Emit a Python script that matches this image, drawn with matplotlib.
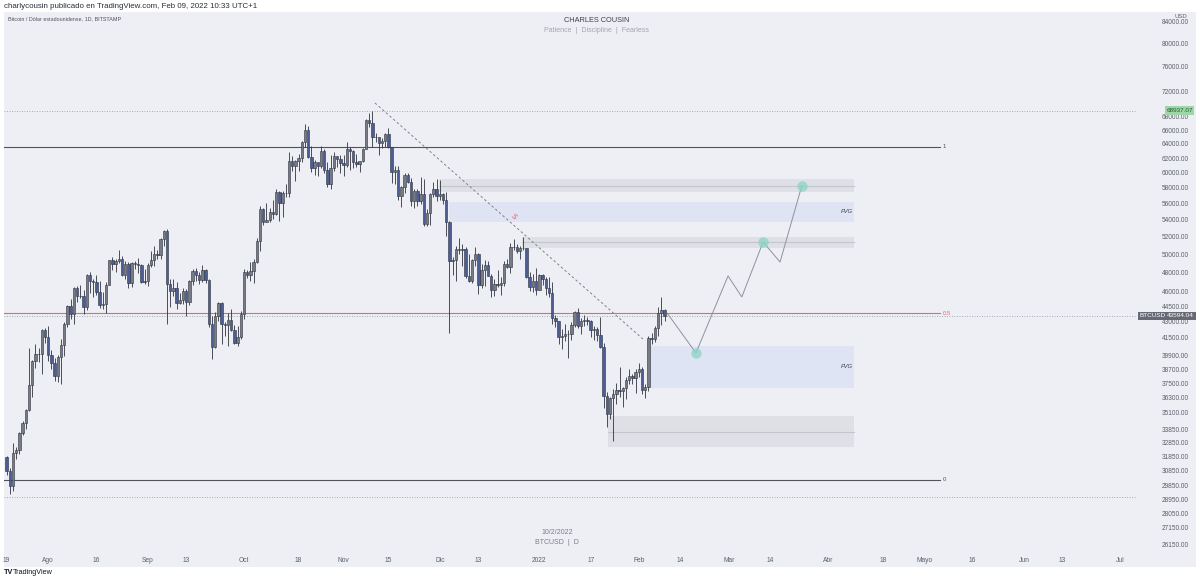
import numpy as np
import pandas as pd
import matplotlib
matplotlib.use("Agg")
import matplotlib.pyplot as plt
import matplotlib.dates as mdates
from matplotlib.patches import Rectangle
from matplotlib.ticker import NullLocator
from matplotlib.transforms import blended_transform_factory

plt.rcParams['font.family'] = ['Liberation Sans', 'DejaVu Sans']

# BTCUSD daily, Bitstamp, 2021-07-19 .. 2022-02-09
start_day = '2021-07-19'
opens = [31780, 30817, 29807, 32110, 32314, 33581, 34292, 35350, 37337, 39406, 39995, 40008, 42235,
         41626, 39974, 39201, 38152, 39747, 40869, 42816, 44555, 43798, 46366, 45585, 45593, 44428, 47793, 47096,
         47047, 46004, 44695, 44801, 46717, 49339, 48905, 49321, 49546, 47706, 48960, 46942, 49058, 48903, 48830,
         47054,
         47166, 48847, 49327, 50025, 49944, 51753, 52633, 46811, 46091, 46391, 44883, 45201, 46063, 44963, 47092,
         48176, 47783, 47268, 48278, 47261, 42843, 40694, 43574, 44896, 42840, 42717, 43208, 42235, 41034, 41564,
         43790, 48116, 47711, 48199, 49112, 51514, 55361, 53805, 53967, 54968, 54771, 57484, 56041, 57401, 57321,
         61593, 60892, 61553, 62026, 64262, 65993, 62210, 60693, 61393, 60931, 63039, 60364, 58482, 60622, 62228,
         61888,
         61318, 61004, 63226, 62970, 61452, 61125, 61527, 63327, 67566, 66971, 64995, 64949, 64155, 64469, 65466,
         63557, 60161, 60368, 56942, 58119, 59760, 58730, 56289, 57569, 56280, 57274, 53569, 54815, 57248, 57806,
         57005, 57230, 56509, 53714, 49253, 49368, 50581, 50471, 50588, 47675, 47140, 49389, 50054, 46702, 48343,
         48864, 47632, 46131, 46834, 46681, 46914, 48890, 48588, 50838, 50820, 50400, 50775, 50701, 47543, 46464,
         47120,
         46216, 47738, 47311, 46430, 45838, 43425, 43082, 41546, 41672, 41865, 41822, 42735, 43949, 42591, 43099,
         43177, 43113, 42250, 42375, 41744, 40680, 36457, 35030, 36276, 36654, 36954, 36852, 37138, 37784, 38138,
         37917, 38483, 38743, 36952, 37155, 41500, 41441, 42412, 43840, 44118]
closes = [30817, 29807, 32110, 32314, 33581, 34292, 35350, 37337, 39406, 39995, 40008, 42235, 41626,
          39974, 39201, 38152, 39747, 40869, 42816, 44555, 43798, 46366, 45585, 45593, 44428, 47793, 47096, 47047,
          46004, 44695, 44801, 46717, 49339, 48905, 49321, 49546, 47706, 48960, 46942, 49058, 48903, 48830, 47054,
          47166,
          48847, 49327, 50025, 49944, 51753, 52633, 46811, 46091, 46391, 44883, 45201, 46063, 44963, 47092, 48176,
          47783, 47268, 48278, 47261, 42843, 40694, 43574, 44896, 42840, 42717, 43208, 42235, 41034, 41564, 43790,
          48116, 47711, 48199, 49112, 51514, 55361, 53805, 53967, 54968, 54771, 57484, 56041, 57401, 57321, 61593,
          60892, 61553, 62026, 64262, 65993, 62210, 60693, 61393, 60931, 63039, 60364, 58482, 60622, 62228, 61888,
          61318,
          61004, 63226, 62970, 61452, 61125, 61527, 63327, 67566, 66971, 64995, 64949, 64155, 64469, 65466, 63557,
          60161, 60368, 56942, 58119, 59760, 58730, 56289, 57569, 56280, 57274, 53569, 54815, 57248, 57806, 57005,
          57230, 56509, 53714, 49253, 49368, 50581, 50471, 50588, 47675, 47140, 49389, 50054, 46702, 48343, 48864,
          47632, 46131, 46834, 46681, 46914, 48890, 48588, 50838, 50820, 50400, 50775, 50701, 47543, 46464, 47120,
          46216,
          47738, 47311, 46430, 45838, 43425, 43082, 41546, 41672, 41865, 41822, 42735, 43949, 42591, 43099, 43177,
          43113, 42250, 42375, 41744, 40680, 36457, 35030, 36276, 36654, 36954, 36852, 37138, 37784, 38138, 37917,
          38483, 38743, 36952, 37155, 41500, 41441, 42412, 43840, 44118, 43594.04]
highs = [31885, 31006, 32820, 32560, 33600, 34475, 35400, 40550, 39540, 40900, 40600, 42300, 42400,
         42600, 40400, 39700, 39950, 41400, 43000, 44700, 45300, 46450, 46600, 46700, 46200, 47900, 48100, 47370,
         47800, 47150, 46000, 47000, 49350, 49700, 49500, 50500, 49800, 49300, 49200, 49200, 49300, 49600, 48900,
         48400,
         49000, 50400, 51000, 50500, 51900, 52780, 52900, 47300, 47300, 47000, 45900, 46400, 46300, 47250, 48450,
         48500, 48100, 48800, 48350, 47300, 43600, 44000, 44950, 45000, 42960, 43900, 44300, 42700, 42600, 44100,
         48400, 48300, 49200, 49500, 51900, 55700, 55400, 56100, 55400, 56500, 57800, 57600, 57600, 58500, 62800,
         62300, 61700, 62600, 64400, 66900, 66600, 63700, 61700, 61500, 63700, 63300, 61500, 62400, 62900, 62300,
         62400,
         62400, 64200, 63500, 63100, 62600, 61600, 63400, 67700, 68500, 68937.07, 65600, 65000, 64900, 65500, 66300,
         63600, 60900, 60950, 58300, 59900, 60000, 59300, 57800, 57800, 59400, 59200, 55300, 57400, 58800, 59200,
         59100, 57400, 57500, 53900, 49700, 50900, 51900, 51200, 50800, 50000, 49500, 50800, 50200, 48900, 49400,
         49300, 47900, 47300, 48300, 47500, 49300, 49500, 51300, 51800, 51200, 51000, 52000, 50700, 48100, 47900,
         48500,
         47900, 47900, 47500, 47500, 47000, 43700, 43100, 42300, 42800, 42200, 43000, 44100, 44400, 43400, 43700,
         43500, 43200, 42600, 42500, 43500, 41000, 36800, 36400, 37000, 37500, 38900, 37200, 38000, 38700, 38300,
         38700, 39200, 38900, 37400, 41700, 42000, 42600, 44500, 45500, 44300]
lows = [30563, 29280, 29500, 31700, 32000, 33400, 33880, 35260, 36400, 38800, 39300, 38300, 41060,
        39400, 38700, 37700, 37600, 37400, 39900, 42500, 43300, 42800, 45000, 45400, 43800, 44200, 45900, 45500,
        45700, 44400, 44300, 43900, 46700, 48300, 48100, 49000, 47600, 47300, 46400, 46500, 48400, 48000, 46900,
        46800,
        46600, 48600, 48700, 49500, 49500, 50900, 42800, 44500, 45600, 44300, 44800, 44800, 43600, 44700, 46750,
        47100, 46800, 47050, 46900, 42500, 39600, 40600, 43100, 40900, 41700, 40800, 42100, 40900, 40800, 41400,
        43300, 47400, 47100, 46900, 49000, 50400, 53400, 53700, 53700, 54100, 54600, 53900, 54300, 56800, 56900,
        60200, 58900, 60200, 61400, 63500, 62000, 60100, 59700, 59600, 60700, 59900, 58100, 57900, 60200, 60800,
        60000,
        59600, 60800, 60400, 60700, 60800, 60100, 61400, 63300, 66400, 63500, 64200, 62400, 63400, 63600, 63400,
        58600, 58500, 56500, 55600, 57400, 58600, 55700, 55400, 55700, 56000, 53300, 53300, 53400, 56800, 56300,
        56500, 55900, 52100, 42000, 47800, 47100, 50100, 48700, 47400, 47000, 46900, 48700, 45800, 46400, 46600,
        47600, 45500, 45600, 46500, 45700, 46600, 48500, 48000, 50500, 50200, 49500, 50500, 47400, 46100, 46000,
        45700,
        46200, 46700, 45700, 45500, 42800, 42500, 40900, 40500, 41200, 39700, 41300, 42500, 42400, 41900, 42600,
        42700, 41600, 41300, 41200, 40600, 35500, 34000, 34600, 32950, 35800, 36400, 35600, 36200, 37400, 37400,
        36700, 38000, 36600, 36300, 36900, 40900, 41100, 41700, 42700, 43100]

ath_price = 68937.07
last_price = 43594.04
low_line = 29100

# fib levels (1 / 0.5 / 0)
fib_levels = [63550, 43870, 30220]
fib_labels = ['1', '0.5', '0']
fib_end = '2022-05-05 18:00'

# zones
zone_start = ['2021-11-30 18:00', '2021-12-03 18:00', '2021-12-26 18:00', '2022-02-03 12:00', '2022-01-22 12:00']
zone_end = '2022-04-09 00:00'
zone_lo = [57470, 53760, 50720, 37110, 32520]
zone_hi = [59170, 56210, 51980, 40760, 34860]
zone_mid = [58310, None, 51400, None, 33630]
zone_kind = ['gray', 'fvg', 'gray', 'fvg', 'gray']

trend_dates = ['2021-11-10 19:00', '2022-02-02 07:00']
trend_prices = [70110, 41390]

path_dates = ['2022-02-09 19:00', '2022-02-18 19:00', '2022-02-28 19:00', '2022-03-05 02:00',
              '2022-03-11 17:00', '2022-03-17 00:00', '2022-03-23 19:00']
path_prices = [43870, 40130, 47650, 45470, 51400, 49160, 58310]
target_idx = [1, 4, 6]

ytick_vals = [84000, 80000, 76000, 72000, 68000, 66000, 64000, 62000, 60000, 58000, 56000, 54000, 52000,
              50000, 48000, 46000, 44500, 43000, 41500, 39900, 38700, 37500, 36300, 35100, 33850, 32850,
              31850, 30850, 29850, 28950, 28050, 27150, 26150]

xtick_dates = ['2021-07-19', '2021-08-01', '2021-08-16', '2021-09-01', '2021-09-13', '2021-10-01', '2021-10-18',
               '2021-11-01', '2021-11-15', '2021-12-01', '2021-12-13', '2022-01-01', '2022-01-17', '2022-02-01',
               '2022-02-14', '2022-03-01', '2022-03-14', '2022-04-01', '2022-04-18', '2022-05-01', '2022-05-16',
               '2022-06-01', '2022-06-13', '2022-07-01']
xtick_labels = ['19', 'Ago', '16', 'Sep', '13', 'Oct', '18', 'Nov', '15', 'Dic', '13', '2022', '17', 'Feb',
                '14', 'Mar', '14', 'Abr', '18', 'Mayo', '16', 'Jun', '13', 'Jul']

BG = '#eeeff4'
UP = '#777b86'
DOWN = '#4d5d96'
EDGE = '#2f333d'

def dn(s):
    return mdates.date2num(pd.Timestamp(s))

W, H = 1200, 581
fig = plt.figure(figsize=(12, 5.81), dpi=100, facecolor='white')
fig.patches.append(Rectangle((4 / W, 1 - 567 / H), 1192 / W, 555 / H, transform=fig.transFigure,
                             facecolor=BG, edgecolor='none', zorder=-10))
ax = fig.add_axes([4 / W, 1 - 551 / H, 1133 / W, 539 / H])
ax.set_facecolor('none')
for s in ax.spines.values():
    s.set_visible(False)

dates = mdates.date2num(pd.date_range(start_day, periods=len(closes), freq='D'))
o = np.array(opens, float)
c = np.array(closes, float)
hi = np.array(highs, float)
lo = np.array(lows, float)

ax.set_yscale('log')
d0 = dn(start_day)

# zones
x1 = dn(zone_end)
for zs, zl, zh, zm, kind in zip(zone_start, zone_lo, zone_hi, zone_mid, zone_kind):
    x0 = dn(zs)
    col = '#dfe0e6' if kind == 'gray' else '#dee4f4'
    ax.fill_between([x0, x1], zl, zh, color=col, lw=0, zorder=1)
    if zm is not None:
        ax.plot([x0, x1], [zm, zm], color='#c4c6cd', lw=0.8, zorder=1.5)
    if kind == 'fvg':
        ax.text(x1 - 2.2, np.sqrt(zl * zh), 'FVG', fontsize=4.2, style='italic', color='#3c404a',
                ha='center', va='center', zorder=2)

# fib lines
xf = dn(fib_end)
fib_cols = ['#50535c', '#e06b6b', '#50535c']
for lvl, lab, fc in zip(fib_levels, fib_labels, fib_cols):
    ax.plot([d0 - 5, xf], [lvl, lvl], color=fc, lw=0.8, zorder=2)
    ax.text(xf + 0.9, lvl, lab, fontsize=4.3, color=fc, ha='left', va='center')

# price lines (dotted)
for p in [ath_price, last_price, low_line]:
    ax.axhline(p, color='#9da1ab', lw=0.6, ls=(0, (1.2, 1.8)), zorder=1)

# trendline
ax.plot([dn(t) for t in trend_dates], trend_prices, color='#7c808a', lw=0.7, ls=(0, (2.5, 2.5)), zorder=3)
ax.text(dn('2021-12-24 02:00'), 54360, 'S', color='#e0485c', fontsize=5, style='italic',
        rotation=-35, ha='center', va='center', zorder=3)

# candles
up = c >= o
ax.vlines(dates, lo, hi, color=EDGE, lw=0.6, zorder=4)
ax.bar(dates[up], np.abs(c - o)[up], bottom=np.minimum(o, c)[up], width=0.75,
       color=UP, edgecolor=EDGE, lw=0.4, zorder=5)
ax.bar(dates[~up], np.abs(c - o)[~up], bottom=np.minimum(o, c)[~up], width=0.75,
       color=DOWN, edgecolor=EDGE, lw=0.4, zorder=5)

# projected path
px = [dn(t) for t in path_dates]
ax.plot(px, path_prices, color='#8e929b', lw=0.7, zorder=6)
ax.plot([px[i] for i in target_idx], [path_prices[i] for i in target_idx], 'o', ms=7.5,
        color='#8fd5c7', alpha=0.8, mec='none', zorder=7)

ax.set_xlim(d0 - 0.78, d0 + 352.2)
ax.set_ylim(25790, 85896)

# axes ticks
ax.yaxis.tick_right()
ax.set_yticks(ytick_vals)
ax.set_yticklabels(['%.2f' % v for v in ytick_vals])
ax.yaxis.set_minor_locator(NullLocator())
ax.tick_params(axis='y', length=0, pad=18, labelsize=4.7, labelcolor='#5b5f6a')
ax.set_xticks([dn(t) for t in xtick_dates])
ax.set_xticklabels(xtick_labels)
ax.tick_params(axis='x', length=0, pad=4, labelsize=4.8, labelcolor='#5b5f6a')

# price-scale labels
tr = blended_transform_factory(ax.transAxes, ax.transData)
ax.text((1179.5 - 4) / 1133, ath_price, '%.2f' % ath_price, transform=tr, fontsize=4.6, color='#1f5a2c',
        ha='center', va='center', clip_on=False, zorder=10,
        bbox=dict(boxstyle='square,pad=0.25', fc='#9fd6a8', ec='none'))
ax.text((1153 - 4) / 1133, last_price, 'BTCUSD', transform=tr, fontsize=4.6, color='white',
        ha='center', va='center', clip_on=False, zorder=10,
        bbox=dict(boxstyle='square,pad=0.25', fc='#676a75', ec='none'))
ax.text((1180.5 - 4) / 1133, last_price, '%.2f' % last_price, transform=tr, fontsize=4.6, color='white',
        ha='center', va='center', clip_on=False, zorder=10,
        bbox=dict(boxstyle='square,pad=0.25', fc='#676a75', ec='none'))
fig.text(1181 / W, 1 - 16 / H, 'USD', fontsize=4.3, color='#5b5f6a', ha='center', va='center')

# header / watermarks
fig.text(4 / W, 1 - 6 / H, 'charlycousin publicado en TradingView.com, Feb 09, 2022 10:33 UTC+1',
         fontsize=5.7, color='#2a2e39', ha='left', va='center')
fig.text(8 / W, 1 - 19 / H, 'Bitcoin / Dólar estadounidense, 1D, BITSTAMP',
         fontsize=3.9, color='#50535e', ha='left', va='center')
fig.text(597 / W, 1 - 21 / H, 'CHARLES COUSIN', fontsize=5.3, color='#3c404b', ha='center', va='center')
fig.text(597 / W, 1 - 31 / H, 'Patience  |  Discipline  |  Fearless', fontsize=5.0, color='#a3a7b1',
         ha='center', va='center')
fig.text(557 / W, 1 - 532 / H, '10/2/2022', fontsize=5.0, color='#7b7f8a', ha='center', va='center')
fig.text(557 / W, 1 - 543 / H, 'BTCUSD  |  D', fontsize=5.0, color='#7b7f8a', ha='center', va='center')
fig.text(4 / W, 1 - 573 / H, 'TV', fontsize=5.2, color='#131722', weight='bold', ha='left', va='center')
fig.text(13 / W, 1 - 573 / H, 'TradingView', fontsize=5.2, color='#131722', ha='left', va='center')

fig.savefig('out.png', dpi=100, facecolor='white')
